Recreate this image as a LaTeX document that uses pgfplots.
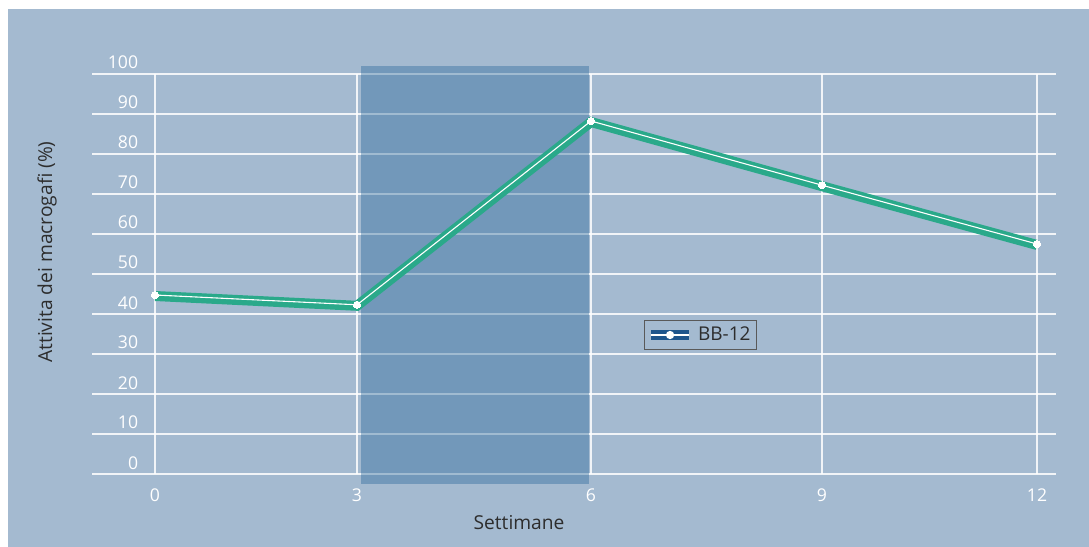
\documentclass[border=0pt]{standalone}
\usepackage{fontspec}
\setmainfont{Open Sans}
\usepackage{pgfplots}
\pgfplotsset{compat=1.18}
\definecolor{bg}{RGB}{164,186,208}
\definecolor{shade}{RGB}{39,103,153}
\definecolor{lgreen}{RGB}{42,169,138}
\definecolor{lblue}{RGB}{30,85,140}
\definecolor{txt}{RGB}{45,45,45}
\begin{document}
\begin{tikzpicture}
\fill[white] (0,0) rectangle (544.5pt,273.5pt);
\fill[bg] (4pt,0) rectangle (544.5pt,269pt);
\begin{axis}[
  at={(46pt,36.5pt)}, anchor=south west,
  scale only axis, width=482pt, height=200pt,
  xmin=92, xmax=1056, ymin=0, ymax=100,
  xtick={155,357,591,822,1037}, xticklabels={0,3,6,9,12},
  ytick={0,10,...,100},
  grid=major,
  major grid style={white, opacity=0.85, line width=0.75pt},
  tick style={draw=none},
  axis line style={draw=none},
  clip=false,
  /pgf/number format/assume math mode=true,
  tick label style={font=\fontsize{8.8}{10}\selectfont, text=white},
  yticklabel style={anchor=base east, inner sep=0pt, xshift=23.25pt, yshift=2.5pt},
  xticklabel style={anchor=north, inner sep=0pt, yshift=-7pt},
  xlabel={Settimane},
  ylabel={Attivita dei macrogafi (\%)},
  xlabel style={at={(axis description cs:0.443,-0.1225)}, anchor=center, font=\fontsize{9.6}{11}\selectfont, text=txt},
  ylabel style={at={(axis description cs:-0.0467,0.555)}, anchor=center, font=\fontsize{9.6}{11}\selectfont, text=txt},
  legend style={at={(axis description cs:0.631,0.3475)}, anchor=center, draw=black!65, line width=0.5pt, fill=none, inner sep=1pt, font=\fontsize{9.5}{11}\selectfont, text=txt},
  legend cell align=left,
]
\addplot[draw=none, fill=shade, fill opacity=0.4, forget plot] coordinates {(361,-2.5) (589,-2.5) (589,102) (361,102)} -- cycle;
\addplot[lgreen, line width=5pt, yshift=-0.5pt, forget plot] coordinates {(155,44.75) (357,42.3) (591,88.25) (822,72.2) (1037,57.5)};
\addplot[white, line width=0.55pt, mark=*, mark size=1.8pt, mark options={fill=white, draw=white, line width=0pt}, forget plot] coordinates {(155,44.75) (357,42.3) (591,88.25) (822,72.2) (1037,57.5)};
\addlegendimage{legend image code/.code={
  \draw[lblue, line width=5pt] (0pt,0pt) -- (19pt,0pt);
  \draw[white, line width=1pt] (0pt,0pt) -- (19pt,0pt);
  \fill[white] (9.5pt,0pt) circle (1.8pt);}}
\addlegendentry{BB-12}
\end{axis}
\end{tikzpicture}
\end{document}
